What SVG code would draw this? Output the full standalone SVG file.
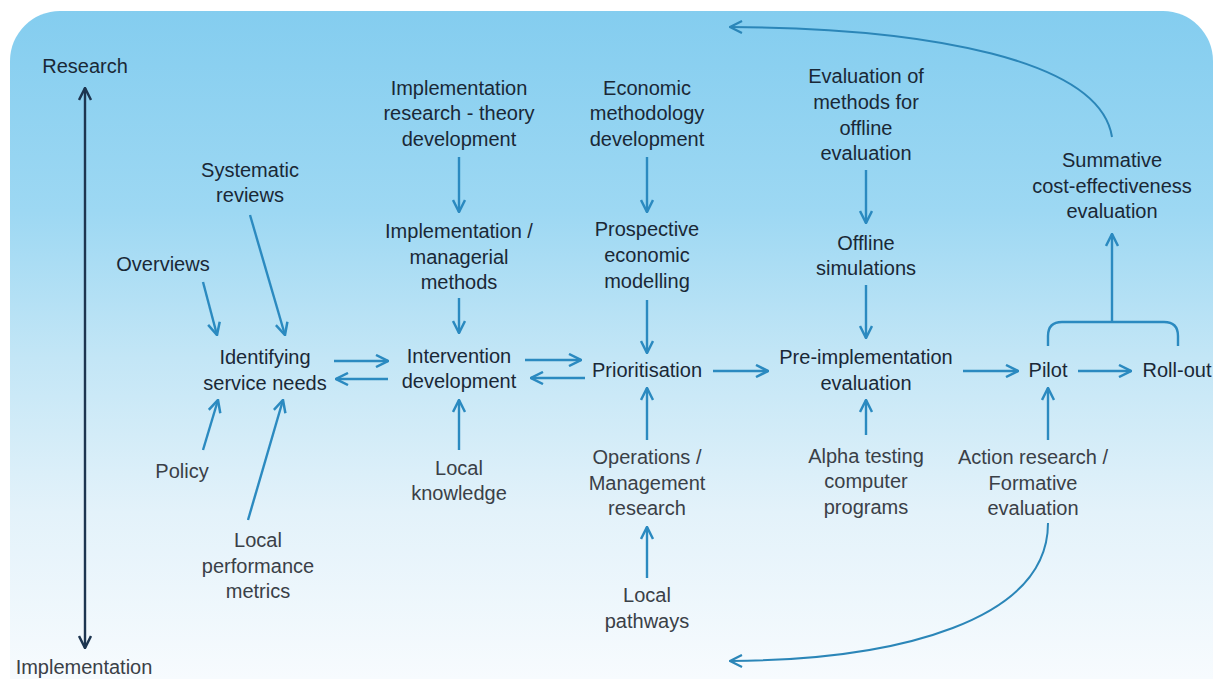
<svg xmlns="http://www.w3.org/2000/svg" width="1215" height="679" viewBox="0 0 1215 679">
<defs>
<linearGradient id="bg" x1="0" y1="11" x2="0" y2="679" gradientUnits="userSpaceOnUse">
<stop offset="0" stop-color="#84cdef"/>
<stop offset="0.3" stop-color="#9dd8f3"/>
<stop offset="0.52" stop-color="#c3e6f6"/>
<stop offset="0.75" stop-color="#e3f2fa"/>
<stop offset="1" stop-color="#f7fbfe"/>
</linearGradient>
<marker id="ah" viewBox="0 0 14 14" refX="13" refY="7" markerWidth="14" markerHeight="14" markerUnits="userSpaceOnUse" orient="auto">
<path d="M1,1 L13,7 L1,13" fill="none" stroke="#2b8ac0" stroke-width="2.5"/>
</marker>
<marker id="ahd" viewBox="0 0 14 14" refX="13" refY="7" markerWidth="14" markerHeight="14" markerUnits="userSpaceOnUse" orient="auto-start-reverse">
<path d="M1,1 L13,7 L1,13" fill="none" stroke="#1d3550" stroke-width="2.5"/>
</marker>
<marker id="ahc" viewBox="0 0 14 14" refX="13" refY="7" markerWidth="14" markerHeight="14" markerUnits="userSpaceOnUse" orient="auto">
<path d="M1,1 L13,7 L1,13" fill="none" stroke="#2b86b8" stroke-width="2.2"/>
</marker>
</defs>
<style>
text{font-family:"Liberation Sans",Arial,sans-serif;font-size:20px;text-anchor:middle;fill:#1a2836}
.lo{fill:#3a4047}
.c{fill:none;stroke:#2b8ac0;stroke-width:2.4;marker-end:url(#ah)}
.cv{fill:none;stroke:#2b86b8;stroke-width:2;marker-end:url(#ahc)}
.ax{fill:none;stroke:#1d3550;stroke-width:2.4}
</style>
<rect x="10" y="11" width="1203" height="720" rx="50" fill="url(#bg)"/>

<g id="axis">
<line class="ax" x1="85" y1="88" x2="85" y2="648" marker-start="url(#ahd)" marker-end="url(#ahd)"/>
<text x="85" y="73">Research</text>
<text x="84" y="674" class="lo">Implementation</text>
</g>

<g id="connectors">
<line class="c" x1="203" y1="282" x2="217" y2="335"/>
<line class="c" x1="250" y1="215" x2="285" y2="335"/>
<line class="c" x1="203" y1="450" x2="218" y2="400"/>
<line class="c" x1="248" y1="520" x2="283" y2="400"/>
<line class="c" x1="334" y1="361" x2="388" y2="361"/>
<line class="c" x1="388" y1="379" x2="336" y2="379"/>
<line class="c" x1="459" y1="157" x2="459" y2="212"/>
<line class="c" x1="459" y1="298" x2="459" y2="333"/>
<line class="c" x1="459" y1="450" x2="459" y2="400"/>
<line class="c" x1="525" y1="360" x2="581" y2="360"/>
<line class="c" x1="585" y1="378" x2="531" y2="378"/>
<line class="c" x1="647" y1="157" x2="647" y2="212"/>
<line class="c" x1="647" y1="300" x2="647" y2="353"/>
<line class="c" x1="647" y1="440" x2="647" y2="388"/>
<line class="c" x1="647" y1="578" x2="647" y2="527"/>
<line class="c" x1="713" y1="371" x2="768" y2="371"/>
<line class="c" x1="866" y1="170" x2="866" y2="223"/>
<line class="c" x1="866" y1="285" x2="866" y2="338"/>
<line class="c" x1="866" y1="435" x2="866" y2="400"/>
<line class="c" x1="963" y1="371" x2="1018" y2="371"/>
<line class="c" x1="1078" y1="371" x2="1131" y2="371"/>
<line class="c" x1="1048" y1="440" x2="1048" y2="388"/>
<path d="M1048,346 L1048,336 Q1048,322 1062,322 L1164,322 Q1178,322 1178,336 L1178,346" fill="none" stroke="#2b8ac0" stroke-width="2.4"/>
<line class="c" x1="1112" y1="322" x2="1112" y2="234"/>
<path class="cv" d="M1112,137 C1100,60 930,28 730,27"/>
<path class="cv" d="M1048,523 C1048,620 900,660 730,661"/>
</g>

<g id="n-systematic"><text x="250" y="177">Systematic</text><text x="250" y="202">reviews</text></g>
<g id="n-overviews"><text x="163" y="271">Overviews</text></g>
<g id="n-identifying"><text x="265" y="364">Identifying</text><text x="265" y="390">service needs</text></g>
<g id="n-policy"><text x="182" y="478" class="lo">Policy</text></g>
<g id="n-localperf"><text x="258" y="547" class="lo">Local</text><text x="258" y="573" class="lo">performance</text><text x="258" y="598" class="lo">metrics</text></g>

<g id="n-implres"><text x="459" y="95">Implementation</text><text x="459" y="120">research - theory</text><text x="459" y="146">development</text></g>
<g id="n-implman"><text x="459" y="238">Implementation /</text><text x="459" y="264">managerial</text><text x="459" y="289">methods</text></g>
<g id="n-intervention"><text x="459" y="363">Intervention</text><text x="459" y="388">development</text></g>
<g id="n-localknow"><text x="459" y="475" class="lo">Local</text><text x="459" y="500" class="lo">knowledge</text></g>

<g id="n-econ"><text x="647" y="95">Economic</text><text x="647" y="120">methodology</text><text x="647" y="146">development</text></g>
<g id="n-prospective"><text x="647" y="236">Prospective</text><text x="647" y="262">economic</text><text x="647" y="288">modelling</text></g>
<g id="n-prior"><text x="647" y="377">Prioritisation</text></g>
<g id="n-operations"><text x="647" y="464" class="lo">Operations /</text><text x="647" y="490" class="lo">Management</text><text x="647" y="515" class="lo">research</text></g>
<g id="n-localpath"><text x="647" y="602" class="lo">Local</text><text x="647" y="628" class="lo">pathways</text></g>

<g id="n-evalmethods"><text x="866" y="83">Evaluation of</text><text x="866" y="109">methods for</text><text x="866" y="135">offline</text><text x="866" y="160">evaluation</text></g>
<g id="n-offline"><text x="866" y="250">Offline</text><text x="866" y="275">simulations</text></g>
<g id="n-preimpl"><text x="866" y="364">Pre-implementation</text><text x="866" y="390">evaluation</text></g>
<g id="n-alpha"><text x="866" y="463" class="lo">Alpha testing</text><text x="866" y="488" class="lo">computer</text><text x="866" y="514" class="lo">programs</text></g>

<g id="n-pilot"><text x="1048" y="377">Pilot</text></g>
<g id="n-rollout"><text x="1177" y="377">Roll-out</text></g>
<g id="n-summative"><text x="1112" y="167">Summative</text><text x="1112" y="193">cost-effectiveness</text><text x="1112" y="218">evaluation</text></g>
<g id="n-action"><text x="1033" y="464" class="lo">Action research /</text><text x="1033" y="490" class="lo">Formative</text><text x="1033" y="515" class="lo">evaluation</text></g>
</svg>
